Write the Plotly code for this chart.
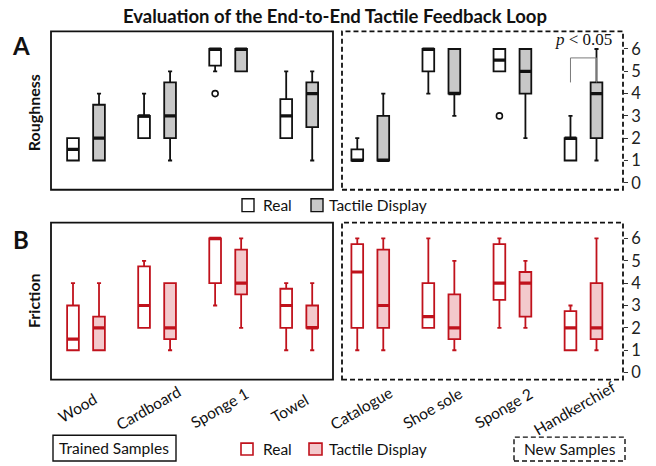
import plotly.graph_objects as go

# ---------------- data ----------------
categories = ["Wood", "Cardboard", "Sponge 1", "Towel",
              "Catalogue", "Shoe sole", "Sponge 2", "Handkerchief"]
yticks = [0, 1, 2, 3, 4, 5, 6]

# Roughness - Real
rough_real_q1 = [1, 2, 5.25, 2, 1, 5, 5, 1]
rough_real_med = [1.5, 3, 6, 3, 1, 6, 5.5, 2]
rough_real_q3 = [2, 3, 6, 3.75, 1.5, 6, 6, 2]
rough_real_lo = [1, 2, 5, 2, 1, 4, 5, 1]
rough_real_hi = [2, 4, 6, 5, 2, 6, 6, 3]
rough_real_outlier_cat = [2, 6]
rough_real_outlier_val = [4, 3]

# Roughness - Tactile Display
rough_tact_q1 = [1, 2, 5, 2.5, 1, 4, 4, 2]
rough_tact_med = [2, 3, 6, 4, 1, 4, 5, 4]
rough_tact_q3 = [3.5, 4.5, 6, 4.5, 3, 6, 6, 4.5]
rough_tact_lo = [1, 1, 5, 1, 1, 3, 2, 1]
rough_tact_hi = [4, 5, 6, 5, 4, 6, 6, 6]

# Friction - Real
fric_real_q1 = [1, 2, 4, 2, 2, 2, 3.25, 1]
fric_real_med = [1.5, 3, 6, 3, 4.5, 2.5, 4, 2]
fric_real_q3 = [3, 4.75, 6, 3.75, 5.75, 4, 5.75, 2.75]
fric_real_lo = [1, 2, 3, 1, 1, 2, 2, 1]
fric_real_hi = [4, 5, 6, 4, 6, 6, 6, 3]

# Friction - Tactile Display
fric_tact_q1 = [1, 1.5, 3.5, 2, 2, 1.5, 2.5, 1.5]
fric_tact_med = [2, 2, 4, 2, 3, 2, 4, 2]
fric_tact_q3 = [2.5, 4, 5.5, 3, 5.5, 3.5, 4.5, 4]
fric_tact_lo = [1, 1, 2, 1, 1, 1, 2, 1]
fric_tact_hi = [4, 4, 6, 4, 6, 5, 5, 6]

# significance bracket (Handkerchief, roughness)
sig_cat = 7
sig_low = 4.5
sig_top = 5.6
sig_text = "<i>p</i> &lt; 0.05"

# ---------------- layout helpers ----------------
W, H = 656, 466
FONT = "Lato"
OFF = 0.183
BW = 0.165


def px(x):
    return x / W


def py(y):
    return 1 - y / H


real_x = [i - OFF for i in range(len(categories))]
tact_x = [i + OFF for i in range(len(categories))]

BLACK = "#111111"
GRAY_FILL = "#c8c8c8"
RED = "#c0121c"
PINK = "#f3c9cc"

fig = go.Figure()


def add_boxes(xs, q1, med, q3, lo, hi, fill, line, xa, ya):
    fig.add_trace(go.Box(
        x=xs, q1=q1, median=med, q3=q3, lowerfence=lo, upperfence=hi,
        width=BW, fillcolor=fill, line=dict(color=line, width=1.8),
        whiskerwidth=0.35, boxpoints=False, showlegend=False,
        xaxis=xa, yaxis=ya, hoverinfo="skip"))
    mx, my = [], []
    for x, m in zip(xs, med):
        mx += [x - BW / 2, x + BW / 2, None]
        my += [m, m, None]
    fig.add_trace(go.Scatter(x=mx, y=my, mode="lines",
                             line=dict(color=line, width=3.2),
                             showlegend=False, xaxis=xa, yaxis=ya,
                             hoverinfo="skip"))


add_boxes(real_x, rough_real_q1, rough_real_med, rough_real_q3,
          rough_real_lo, rough_real_hi, "white", BLACK, "x", "y")
add_boxes(tact_x, rough_tact_q1, rough_tact_med, rough_tact_q3,
          rough_tact_lo, rough_tact_hi, GRAY_FILL, BLACK, "x", "y")
add_boxes(real_x, fric_real_q1, fric_real_med, fric_real_q3,
          fric_real_lo, fric_real_hi, "white", RED, "x2", "y2")
add_boxes(tact_x, fric_tact_q1, fric_tact_med, fric_tact_q3,
          fric_tact_lo, fric_tact_hi, PINK, RED, "x2", "y2")

# outliers
fig.add_trace(go.Scatter(
    x=[c - OFF for c in rough_real_outlier_cat], y=rough_real_outlier_val,
    mode="markers",
    marker=dict(symbol="circle-open", size=6, color=BLACK, line=dict(width=1.6)),
    showlegend=False, xaxis="x", yaxis="y", hoverinfo="skip"))

# significance bracket
fig.add_trace(go.Scatter(
    x=[sig_cat - OFF, sig_cat - OFF, sig_cat + OFF, sig_cat + OFF],
    y=[sig_low, sig_top, sig_top, sig_low],
    mode="lines", line=dict(color="#7a7a7a", width=1),
    showlegend=False, xaxis="x", yaxis="y", hoverinfo="skip"))

xr = [-0.4925, 7.556]
xdom = [px(51), px(623)]
top_dom = [py(191), py(31.5)]
top_rng = [-0.312, 6.793]
bot_dom = [py(382), py(224)]
bot_rng = [-0.311, 6.711]

xcommon = dict(domain=xdom, range=xr, showgrid=False, zeroline=False,
               showticklabels=False, ticks="", showline=False)
ycommon = dict(side="right", anchor="free", position=px(623),
               tickvals=yticks, ticks="outside", ticklen=4,
               tickcolor="#333333", tickwidth=1.3,
               showgrid=False, zeroline=False, showline=False,
               tickfont=dict(family=FONT, size=16.5, color="#222222"))
yinner = dict(side="right", anchor="free", position=px(623),
              tickvals=yticks, ticks="inside", ticklen=3,
              tickcolor="#333333", tickwidth=1.3, showticklabels=False,
              showgrid=False, zeroline=False, showline=False)

fig.update_layout(
    width=W, height=H,
    margin=dict(l=0, r=0, t=0, b=0),
    paper_bgcolor="white", plot_bgcolor="white",
    font=dict(family=FONT, color="#111111"),
    xaxis=dict(anchor="y", **xcommon),
    xaxis2=dict(anchor="y2", **xcommon),
    yaxis=dict(domain=top_dom, range=top_rng, **ycommon),
    yaxis2=dict(domain=bot_dom, range=bot_rng, **ycommon),
    yaxis3=dict(domain=top_dom, range=top_rng, overlaying="y", **yinner),
    yaxis4=dict(domain=bot_dom, range=bot_rng, overlaying="y2", **yinner),
)

shapes = []


def rect(x0, y0, x1, y1, dash="solid", color=BLACK, width=1.8, fill=None):
    d = dict(type="rect", xref="paper", yref="paper",
             x0=px(x0), x1=px(x1), y0=py(y1), y1=py(y0),
             line=dict(color=color, width=width, dash=dash), layer="below")
    if fill:
        d["fillcolor"] = fill
    shapes.append(d)


# panel frames
rect(51, 31.5, 333, 191)
rect(342, 31.5, 623, 191, dash="5px,3px")
rect(51, 224, 333, 382)
rect(342, 224, 623, 382, dash="5px,3px")

# legend swatches
rect(242, 200, 254, 213, width=1.4, fill="white")
rect(311, 200, 323, 213, width=1.4, fill=GRAY_FILL)
rect(241, 446, 253, 458, width=1.6, color=RED, fill="white")
rect(309, 446, 322, 458, width=1.6, color=RED, fill=PINK)

# sample group boxes
rect(53, 438, 176, 464, width=1.4)
rect(514, 440, 625, 464, width=1.4, dash="5px,3px")

fig.update_layout(shapes=shapes)

ann = []


def text(x, y, s, size=15, bold=False, anchor="center", angle=0,
         family=FONT, color="#111111"):
    ann.append(dict(xref="paper", yref="paper", x=px(x), y=py(y),
                    text=f"<b>{s}</b>" if bold else s, showarrow=False,
                    xanchor=anchor, yanchor="middle", textangle=angle,
                    font=dict(family=family, size=size, color=color)))


text(335, 16, "Evaluation of the End-to-End Tactile Feedback Loop", size=18.5, bold=True)
text(21, 46, "A", size=24, bold=True)
text(21, 241, "B", size=24, bold=True)
text(33, 114, "Roughness", size=16, bold=True, angle=-90)
text(33, 303, "Friction", size=16, bold=True, angle=-90)

text(261, 206.5, "Real", size=15.5, anchor="left")
text(327, 206.5, "Tactile Display", size=15.5, anchor="left")
text(261, 452, "Real", size=15.5, anchor="left")
text(327, 452, "Tactile Display", size=15.5, anchor="left")

text(114.5, 451, "Trained Samples", size=15.5)
text(569.5, 452, "New Samples", size=15.5)

# significance text
ann.append(dict(xref="x", yref="y", x=sig_cat, y=6.41, text=sig_text,
                showarrow=False, xanchor="center", yanchor="middle",
                font=dict(family="Liberation Serif", size=17, color="#111111")))

# category labels (rotated)
for i, c in enumerate(categories):
    ann.append(dict(xref="x2", yref="paper", x=i, y=py(411), xshift=-9,
                    text=c, showarrow=False, textangle=-30,
                    xanchor="center", yanchor="middle",
                    font=dict(family=FONT, size=15.5, color="#111111")))

fig.update_layout(annotations=ann)

fig.write_html("out.html")
